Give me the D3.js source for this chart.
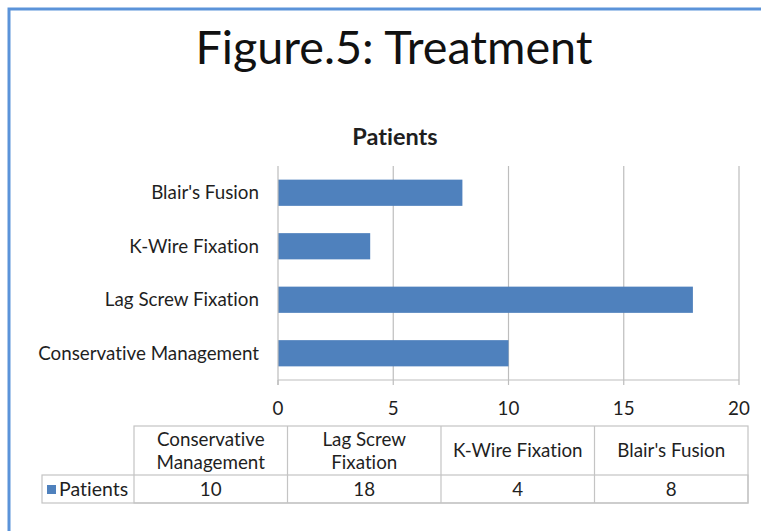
<!DOCTYPE html>
<html>
<head>
<meta charset="utf-8">
<script src="https://cdn.jsdelivr.net/npm/d3@7"></script>
<style>
  html, body { margin: 0; padding: 0; background: #fff; }
  svg { display: block; font-family: Lato, "Open Sans", sans-serif; font-variant-ligatures: none; font-feature-settings: "liga" 0; }
</style>
</head>
<body>
<svg id="chart" width="761" height="531"></svg>
<script>
// ---- data ----
const categories = ["Conservative Management", "Lag Screw Fixation", "K-Wire Fixation", "Blair's Fusion"];
const headerLines = [["Conservative", "Management"], ["Lag Screw", "Fixation"], ["K-Wire Fixation"], ["Blair's Fusion"]];
const patients = [10, 18, 4, 8];
const seriesName = "Patients";
const xTicks = [0, 5, 10, 15, 20];
const chartTitle = "Figure.5: Treatment";

// ---- layout ----
const svg = d3.select("#chart");
const W = 761, H = 531;
const barColor = "#4f81bd";
const gridColor = "#bdbdbd";
const textColor = "#1f1f1f";
const fs = 18.8;

svg.append("rect").attr("x", 0).attr("y", 0).attr("width", W).attr("height", H).attr("fill", "#fff");
svg.append("path")
  .attr("d", `M9,${H} L9,9 L${W},9`)
  .attr("fill", "none").attr("stroke", "#5b93d9").attr("stroke-width", 3);

svg.append("text").attr("x", 394).attr("y", 64).attr("text-anchor", "middle")
  .attr("font-size", 46.7).attr("fill", "#111").text(chartTitle);

svg.append("text").attr("x", 395).attr("y", 145).attr("text-anchor", "middle")
  .attr("font-size", 23.5).attr("font-weight", "bold").attr("fill", textColor).text(seriesName);

const plot = { left: 278, right: 739, top: 166, bottom: 380 };

const x = d3.scaleLinear().domain([0, 20]).range([plot.left, plot.right]);
const y = d3.scaleBand().domain(categories.slice().reverse())
  .range([plot.top, plot.bottom]).paddingInner(0.51).paddingOuter(0.255);

svg.append("g").selectAll("line").data(xTicks.filter(t => t > 0)).join("line")
  .attr("x1", d => x(d)).attr("x2", d => x(d))
  .attr("y1", plot.top).attr("y2", plot.bottom)
  .attr("stroke", gridColor).attr("stroke-width", 1.2);

svg.append("g").selectAll("rect").data(categories).join("rect")
  .attr("x", x(0))
  .attr("y", d => y(d))
  .attr("width", (d, i) => x(patients[i]) - x(0))
  .attr("height", y.bandwidth())
  .attr("fill", barColor);

svg.append("line").attr("x1", plot.left).attr("x2", plot.left).attr("y1", plot.top).attr("y2", plot.bottom + 5)
  .attr("stroke", gridColor).attr("stroke-width", 1.2);
svg.append("line").attr("x1", plot.left).attr("x2", plot.right).attr("y1", plot.bottom).attr("y2", plot.bottom)
  .attr("stroke", gridColor).attr("stroke-width", 1.2);
svg.append("g").selectAll("line").data(xTicks).join("line")
  .attr("x1", d => x(d)).attr("x2", d => x(d)).attr("y1", plot.bottom).attr("y2", plot.bottom + 5)
  .attr("stroke", gridColor).attr("stroke-width", 1.2);

svg.append("g").selectAll("text").data(categories).join("text")
  .attr("x", plot.left - 19)
  .attr("y", d => y(d) + y.bandwidth() / 2)
  .attr("dy", "0.35em").attr("text-anchor", "end")
  .attr("font-size", fs).attr("fill", textColor).text(d => d);

svg.append("g").selectAll("text").data(xTicks).join("text")
  .attr("x", d => x(d)).attr("y", 408).attr("dy", "0.35em")
  .attr("text-anchor", "middle").attr("font-size", fs).attr("fill", textColor).text(d => d);

// ---- data table ----
const tbl = { left: 42, colStart: 134, right: 748, top: 426, mid: 475, bottom: 503 };
const colX = d3.scaleBand().domain(d3.range(categories.length)).range([tbl.colStart, tbl.right]);
const tg = svg.append("g");
const lineCol = "#c4c4c4";
tg.append("rect").attr("x", tbl.colStart).attr("y", tbl.top).attr("width", tbl.right - tbl.colStart)
  .attr("height", tbl.bottom - tbl.top).attr("fill", "none").attr("stroke", lineCol).attr("stroke-width", 1.2);
tg.append("rect").attr("x", tbl.left).attr("y", tbl.mid).attr("width", tbl.right - tbl.left)
  .attr("height", tbl.bottom - tbl.mid).attr("fill", "none").attr("stroke", lineCol).attr("stroke-width", 1.2);
tg.selectAll("line.col").data(d3.range(1, categories.length)).join("line").attr("class", "col")
  .attr("x1", d => colX(d)).attr("x2", d => colX(d)).attr("y1", tbl.top).attr("y2", tbl.bottom)
  .attr("stroke", lineCol).attr("stroke-width", 1.2);

headerLines.forEach((lines, i) => {
  const cx = colX(i) + colX.bandwidth() / 2;
  const cy = (tbl.top + tbl.mid) / 2;
  const lh = 23;
  lines.forEach((ln, j) => {
    tg.append("text").attr("x", cx).attr("y", cy + (j - (lines.length - 1) / 2) * lh)
      .attr("dy", "0.35em").attr("text-anchor", "middle").attr("font-size", fs)
      .attr("fill", textColor).text(ln);
  });
});
patients.forEach((v, i) => {
  tg.append("text").attr("x", colX(i) + colX.bandwidth() / 2).attr("y", (tbl.mid + tbl.bottom) / 2)
    .attr("dy", "0.35em").attr("text-anchor", "middle").attr("font-size", fs)
    .attr("fill", textColor).text(v);
});
tg.append("rect").attr("x", 47).attr("y", 485).attr("width", 9).attr("height", 9).attr("fill", barColor);
tg.append("text").attr("x", 59).attr("y", (tbl.mid + tbl.bottom) / 2).attr("dy", "0.35em")
  .attr("font-size", 19.5).attr("fill", textColor).text(seriesName);
</script>
</body>
</html>
